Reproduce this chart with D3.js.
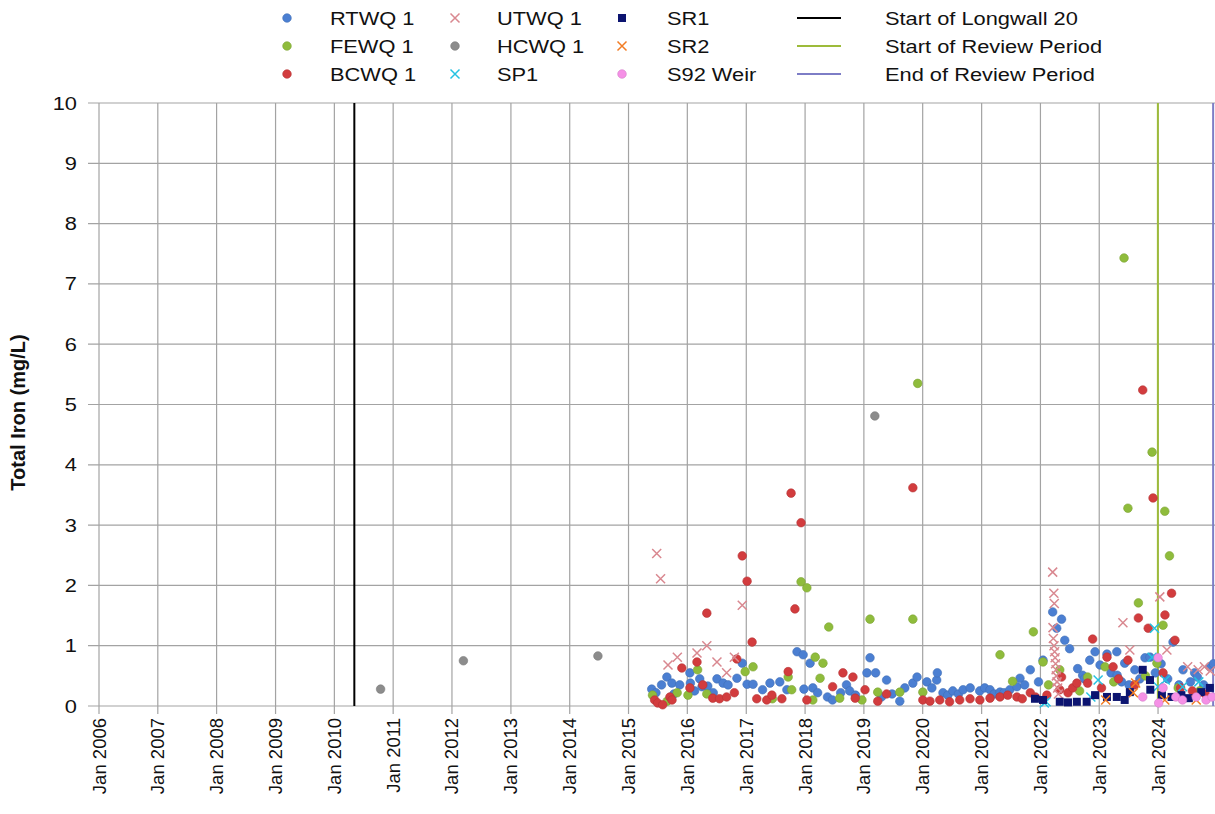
<!DOCTYPE html>
<html>
<head>
<meta charset="utf-8">
<script src="https://cdn.jsdelivr.net/npm/d3@7"></script>
<style>
  body { margin: 0; background: #fff; }
  svg { font-family: Arial, "Liberation Sans", sans-serif; }
</style>
</head>
<body>
<div id="chart"></div>
<script>
// Total iron readings (date, mg/L)
const rtwq1 = [
  ["2015-05-25",0.28],["2015-06-20",0.22],["2015-07-25",0.35],["2015-08-27",0.48],["2015-09-27",0.38],
  ["2015-10-10",0.20],["2015-11-15",0.35],["2016-01-17",0.55],["2016-01-20",0.38],["2016-02-15",0.25],
  ["2016-03-18",0.45],["2016-04-01",0.32],["2016-05-07",0.33],["2016-06-10",0.22],["2016-07-03",0.45],
  ["2016-08-10",0.38],["2016-09-10",0.35],["2016-11-04",0.46],["2016-12-07",0.71],["2017-01-06",0.36],
  ["2017-02-12",0.36],["2017-04-12",0.27],["2017-05-28",0.38],["2017-07-28",0.40],["2017-09-10",0.27],
  ["2017-11-12",0.90],["2017-12-20",0.85],["2017-12-25",0.28],["2018-02-01",0.71],["2018-02-18",0.30],
  ["2018-03-20",0.22],["2018-05-20",0.15],["2018-06-20",0.10],["2018-08-10",0.22],["2018-09-15",0.35],
  ["2018-10-05",0.25],["2018-11-10",0.18],["2019-01-20",0.55],["2019-02-08",0.80],["2019-03-15",0.55],
  ["2019-04-20",0.15],["2019-05-22",0.43],["2019-06-25",0.20],["2019-08-12",0.08],["2019-09-12",0.30],
  ["2019-11-01",0.38],["2019-11-27",0.48],["2020-01-27",0.40],["2020-02-27",0.30],["2020-03-28",0.43],
  ["2020-04-01",0.55],["2020-05-06",0.22],["2020-06-05",0.18],["2020-07-06",0.25],["2020-08-10",0.20],
  ["2020-09-08",0.27],["2020-10-22",0.30],["2020-12-20",0.25],["2021-01-20",0.30],["2021-02-22",0.27],
  ["2021-03-20",0.20],["2021-04-25",0.23],["2021-05-20",0.22],["2021-06-25",0.27],["2021-08-08",0.32],
  ["2021-08-27",0.46],["2021-09-25",0.35],["2021-10-30",0.60],["2021-12-20",0.40],["2022-01-17",0.76],
  ["2022-03-18",1.56],["2022-04-12",1.29],["2022-05-12",1.44],["2022-06-01",1.09],["2022-07-01",0.95],
  ["2022-08-20",0.62],["2022-09-20",0.51],["2022-10-01",0.45],["2022-11-03",0.76],["2022-12-06",0.90],
  ["2023-01-06",0.68],["2023-02-18",0.86],["2023-03-15",0.55],["2023-04-20",0.90],["2023-04-22",0.51],
  ["2023-05-20",0.40],["2023-06-08",0.71],["2023-07-05",0.35],["2023-08-10",0.60],["2023-09-10",0.45],
  ["2023-10-12",0.80],["2023-11-12",0.81],["2023-12-15",0.55],["2024-01-20",0.70],["2024-03-01",0.45],
  ["2024-04-03",1.06],["2024-05-10",0.35],["2024-06-04",0.60],["2024-07-20",0.40],["2024-08-15",0.55],
  ["2024-09-01",0.48],["2024-10-10",0.35],["2024-11-18",0.65],["2024-12-10",0.70]
];
const fewq1 = [
  ["2015-05-30",0.18],["2015-08-29",0.08],["2015-10-30",0.22],["2016-01-05",0.18],["2016-03-05",0.60],
  ["2016-05-01",0.20],["2016-12-25",0.57],["2017-02-12",0.65],["2017-06-12",0.12],["2017-09-18",0.48],
  ["2017-10-10",0.27],["2017-12-07",2.06],["2018-01-12",1.96],["2018-02-18",0.10],["2018-03-05",0.81],
  ["2018-04-04",0.46],["2018-04-22",0.71],["2018-05-28",1.31],["2018-08-04",0.13],["2018-12-20",0.10],
  ["2019-02-08",1.44],["2019-03-28",0.23],["2019-08-12",0.23],["2019-11-01",1.44],["2019-12-01",5.35],
  ["2020-01-02",0.23],["2021-04-25",0.85],["2021-07-12",0.41],["2021-11-18",1.23],["2022-01-17",0.73],
  ["2022-02-20",0.35],["2022-05-01",0.60],["2022-09-01",0.25],["2022-10-21",0.48],["2023-02-06",0.65],
  ["2023-04-01",0.40],["2023-06-04",7.43],["2023-06-28",3.28],["2023-09-01",1.71],["2023-10-15",0.50],
  ["2023-11-25",4.21],["2023-12-25",0.71],["2024-02-01",1.34],["2024-02-12",3.23],["2024-03-12",2.49],
  ["2024-05-05",0.30],["2024-09-15",0.25]
];
const bcwq1 = [
  ["2015-06-12",0.10],["2015-07-01",0.05],["2015-08-01",0.02],["2015-09-15",0.15],["2015-09-28",0.10],
  ["2015-11-28",0.63],["2016-01-17",0.30],["2016-03-01",0.73],["2016-04-06",0.35],["2016-05-01",1.54],
  ["2016-06-07",0.13],["2016-07-19",0.12],["2016-09-01",0.15],["2016-10-19",0.22],["2016-11-03",0.78],
  ["2016-12-07",2.49],["2017-01-06",2.07],["2017-02-06",1.06],["2017-03-07",0.12],["2017-05-08",0.10],
  ["2017-06-09",0.18],["2017-08-10",0.12],["2017-09-18",0.57],["2017-10-06",3.53],["2017-10-30",1.61],
  ["2017-12-07",3.04],["2018-01-12",0.10],["2018-06-21",0.32],["2018-08-24",0.55],["2018-10-25",0.48],
  ["2018-11-08",0.13],["2019-01-08",0.27],["2019-03-28",0.08],["2019-05-22",0.20],["2019-11-01",3.62],
  ["2020-01-02",0.10],["2020-02-15",0.08],["2020-04-16",0.10],["2020-06-16",0.07],["2020-08-18",0.10],
  ["2020-10-21",0.12],["2020-12-21",0.10],["2021-02-22",0.13],["2021-04-25",0.15],["2021-06-12",0.18],
  ["2021-08-08",0.15],["2021-09-10",0.12],["2021-10-30",0.22],["2021-12-01",0.15],["2022-02-10",0.18],
  ["2022-05-01",0.27],["2022-05-12",0.48],["2022-06-21",0.22],["2022-07-20",0.30],["2022-08-15",0.38],
  ["2022-10-21",0.38],["2022-11-21",1.11],["2023-01-15",0.30],["2023-02-18",0.81],["2023-03-28",0.65],
  ["2023-05-01",0.45],["2023-06-28",0.76],["2023-08-10",0.35],["2023-09-01",1.46],["2023-09-28",5.24],
  ["2023-11-01",1.29],["2023-12-01",3.45],["2024-02-01",0.55],["2024-02-13",1.51],["2024-03-25",1.87],
  ["2024-04-15",1.09],["2024-05-20",0.30],["2024-08-01",0.25],["2024-10-20",0.20]
];
const utwq1 = [
  ["2015-06-25",2.53],["2015-07-19",2.11],["2015-09-03",0.68],["2015-10-31",0.81],["2016-03-01",0.88],
  ["2016-05-01",1.00],["2016-07-03",0.73],["2016-09-01",0.55],["2016-10-19",0.81],["2016-12-07",1.67],
  ["2022-03-18",2.22],["2022-03-25",1.87],["2022-03-28",1.70],["2022-03-20",1.30],["2022-03-22",1.12],
  ["2022-03-26",1.00],["2022-03-30",0.90],["2022-04-02",0.80],["2022-04-05",0.70],["2022-04-08",0.60],
  ["2022-04-10",0.50],["2022-04-14",0.40],["2022-04-18",0.30],["2022-04-22",0.20],
  ["2023-05-28",1.38],["2023-07-10",0.93],["2024-01-12",1.81],["2024-02-25",0.93],["2024-07-03",0.65],
  ["2024-09-06",0.60],["2024-10-15",0.65],["2024-11-20",0.58]
];
const hcwq1 = [
  ["2010-10-15",0.28],["2012-03-12",0.75],["2014-06-25",0.83],["2019-03-10",4.81]
];
const sp1 = [
  ["2022-01-25",0.05],["2022-02-05",0.07],["2022-11-10",0.15],["2022-12-25",0.43],["2023-11-25",0.81],
  ["2023-12-10",1.29],["2024-01-01",0.32],["2024-02-15",0.43],["2024-06-01",0.32],["2024-09-10",0.40]
];
const sr1 = [
  ["2021-11-28",0.12],["2022-01-17",0.10],["2022-05-01",0.07],["2022-06-21",0.06],["2022-08-15",0.07],
  ["2022-10-15",0.07],["2022-12-06",0.18],["2023-02-18",0.15],["2023-04-20",0.15],["2023-06-08",0.10],
  ["2023-07-10",0.23],["2023-09-28",0.60],["2023-11-12",0.43],["2023-11-14",0.27],["2024-01-25",0.18],
  ["2024-03-25",0.15],["2024-05-25",0.18],["2024-07-10",0.13],["2024-09-25",0.23],["2024-11-18",0.30]
];
const sr2 = [
  ["2023-02-10",0.10],["2023-08-01",0.22],["2023-08-15",0.38],["2024-02-12",0.10],["2024-08-25",0.10]
];
const s92Weir = [
  ["2023-09-28",0.15],["2024-01-01",0.80],["2024-01-05",0.05],["2024-02-01",0.30],["2024-04-20",0.15],
  ["2024-06-01",0.10],["2024-08-25",0.15],["2024-10-25",0.10],["2024-12-01",0.15]
];

// vertical event lines
const eventNames = ["Start of Longwall 20", "Start of Review Period", "End of Review Period"];
const eventDates = ["2010-05-05", "2023-12-31", "2024-12-08"];

const yTicks = [0, 1, 2, 3, 4, 5, 6, 7, 8, 9, 10];
const xTickYears = d3.range(2006, 2025);

const series = [
  { name: "RTWQ 1", data: rtwq1, shape: "circle", color: "#4b7fd2" },
  { name: "FEWQ 1", data: fewq1, shape: "circle", color: "#8fbc3c" },
  { name: "BCWQ 1", data: bcwq1, shape: "circle", color: "#d23c3e" },
  { name: "UTWQ 1", data: utwq1, shape: "cross", color: "#d98890" },
  { name: "HCWQ 1", data: hcwq1, shape: "circle", color: "#8c8c8c" },
  { name: "SP1", data: sp1, shape: "cross", color: "#25c2e2" },
  { name: "SR1", data: sr1, shape: "square", color: "#0c1470" },
  { name: "SR2", data: sr2, shape: "cross", color: "#f27c24" },
  { name: "S92 Weir", data: s92Weir, shape: "circle", color: "#f590e6" }
];
const eventColors = ["#000000", "#9dbb3a", "#7d7dc6"];

const width = 1215, height = 814;
const parse = d3.timeParse("%Y-%m-%d");
const sx = 1.18; // the reference text is slightly wide

const svg = d3.select("#chart").append("svg")
  .attr("width", width).attr("height", height);

const x = d3.scaleTime()
  .domain([new Date(2006, 0, 1), new Date(2025, 0, 1)])
  .range([99, 1217]);
const y = d3.scaleLinear().domain([0, 10]).range([706, 103]);

// grid
const grid = svg.append("g").attr("stroke", "#a3a3a3").attr("stroke-width", 1.2);
grid.selectAll(".hg").data(yTicks).join("line")
  .attr("x1", 88).attr("x2", width)
  .attr("y1", d => y(d)).attr("y2", d => y(d));
grid.selectAll(".vg").data(xTickYears).join("line")
  .attr("x1", d => x(new Date(d, 0, 1))).attr("x2", d => x(new Date(d, 0, 1)))
  .attr("y1", y(10)).attr("y2", y(0) + 8);

// y tick labels
svg.append("g").selectAll("text").data(yTicks).join("text")
  .attr("transform", d => `translate(77,${y(d) + 6.5}) scale(${sx},1)`)
  .attr("text-anchor", "end")
  .attr("font-size", 18.5)
  .attr("fill", "#111")
  .text(d => d);

// x tick labels
svg.append("g").selectAll("text").data(xTickYears).join("text")
  .attr("transform", d => `translate(${x(new Date(d, 0, 1)) + 6.5},${y(0) + 12}) rotate(-90)`)
  .attr("text-anchor", "end")
  .attr("font-size", 18.5)
  .attr("fill", "#111")
  .text(d => "Jan " + d);

// y axis title
svg.append("text")
  .attr("transform", `translate(25,${(y(0) + y(10)) / 2 + 8}) rotate(-90)`)
  .attr("text-anchor", "middle")
  .attr("font-size", 20)
  .attr("font-weight", "bold")
  .attr("fill", "#111")
  .text("Total Iron (mg/L)");

// event lines
svg.append("g").selectAll("line").data(eventDates).join("line")
  .attr("x1", d => x(parse(d))).attr("x2", d => x(parse(d)))
  .attr("y1", y(10)).attr("y2", y(0))
  .attr("stroke", (d, i) => eventColors[i])
  .attr("stroke-width", 2);

// marker drawing
function drawMarker(sel, shape, color) {
  if (shape === "circle") {
    sel.append("circle").attr("r", 4.3).attr("fill", color)
      .attr("stroke", d3.color(color).darker(0.4)).attr("stroke-width", 0.6);
  } else if (shape === "square") {
    sel.append("rect").attr("x", -4).attr("y", -4).attr("width", 8).attr("height", 8)
      .attr("fill", color);
  } else {
    sel.append("path").attr("d", "M-4.5,-4.5L4.5,4.5M-4.5,4.5L4.5,-4.5")
      .attr("stroke", color).attr("stroke-width", 1.5).attr("fill", "none");
  }
}

series.forEach(s => {
  const g = svg.append("g");
  const pts = g.selectAll("g").data(s.data).join("g")
    .attr("transform", d => `translate(${x(parse(d[0]))},${y(d[1])})`);
  drawMarker(pts, s.shape, s.color);
});

// legend
const legend = svg.append("g");
const colMarkerX = [287, 455, 622];
const colTextX = [330, 497, 667];
const rowY = [18, 46, 74];
series.forEach((s, i) => {
  const c = Math.floor(i / 3), r = i % 3;
  const m = legend.append("g").datum(null)
    .attr("transform", `translate(${colMarkerX[c]},${rowY[r]})`);
  drawMarker(m, s.shape, s.color);
  legend.append("text")
    .attr("transform", `translate(${colTextX[c]},${rowY[r] + 6.5}) scale(${sx},1)`)
    .attr("font-size", 18.5).attr("fill", "#111")
    .text(s.name);
});
eventNames.forEach((n, i) => {
  legend.append("line")
    .attr("x1", 797).attr("x2", 841).attr("y1", rowY[i]).attr("y2", rowY[i])
    .attr("stroke", eventColors[i]).attr("stroke-width", 2);
  legend.append("text")
    .attr("transform", `translate(885,${rowY[i] + 6.5}) scale(${sx},1)`)
    .attr("font-size", 18.5).attr("fill", "#111")
    .text(n);
});
</script>
</body>
</html>
